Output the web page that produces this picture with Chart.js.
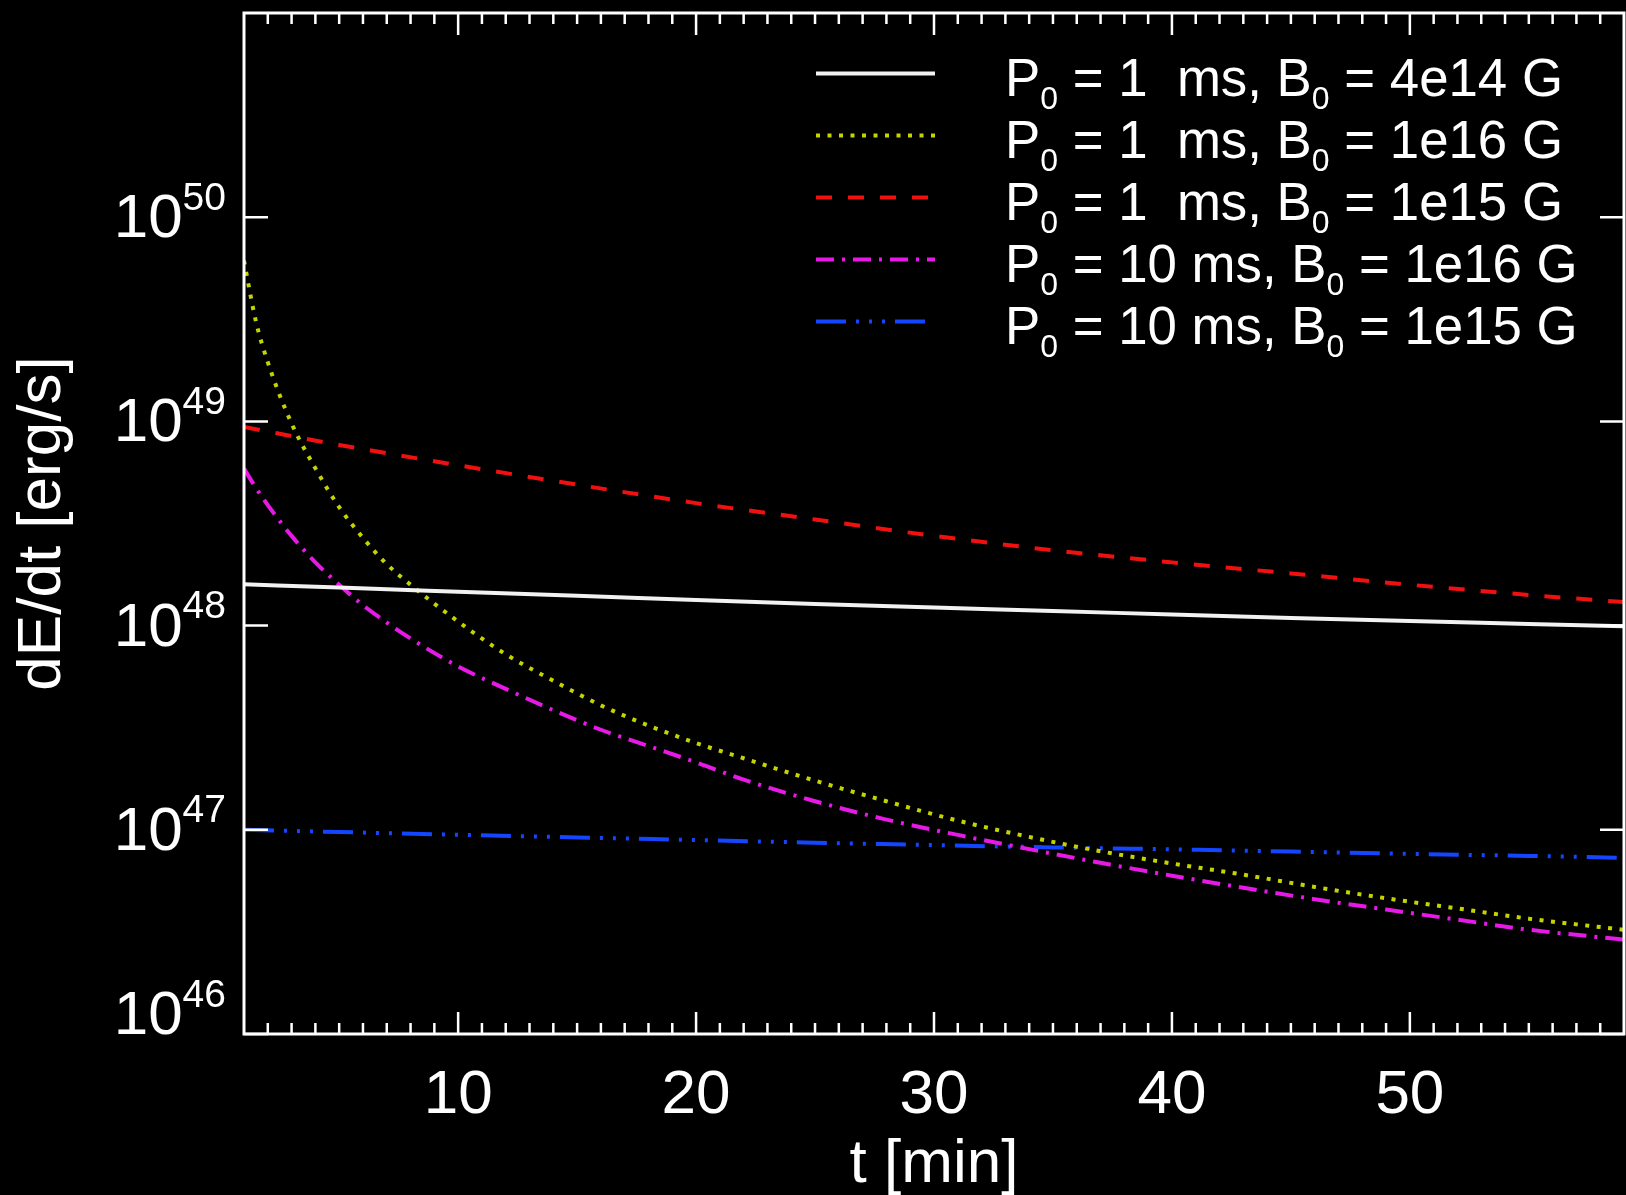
<!DOCTYPE html>
<html>
<head>
<meta charset="utf-8">
<script src="https://cdn.jsdelivr.net/npm/chart.js@4.4.1/dist/chart.umd.min.js"></script>
<style>
  html, body { margin: 0; padding: 0; background: #000; }
  #wrap { width: 1626px; height: 1195px; }
</style>
</head>
<body>
<div id="wrap"><canvas id="diagram" width="1626" height="1195"></canvas></div>
<script>
// time in minutes
const tFine = [1, 1.5, 2, 3, 4, 5, 6, 7, 8, 10, 12, 14, 16, 18, 20, 22, 25, 28, 31, 34, 37, 40, 43, 46, 49, 52, 55, 59];
const tCoarse = [1, 5, 10, 15, 20, 25, 30, 35, 40, 45, 50, 55, 59];

// dE/dt in erg/s
const lumP1B4e14 = [1.592e48, 1.535e48, 1.466e48, 1.400e48, 1.334e48, 1.276e48, 1.225e48, 1.180e48, 1.132e48, 1.089e48, 1.052e48, 1.019e48, 0.993e48];
const lumP1B1e16 = [6.12e49, 3.09e49, 1.95e49, 9.77e48, 5.89e48, 3.80e48, 2.69e48, 2.00e48, 1.585e48, 1.047e48, 7.24e47, 5.37e47, 4.07e47, 3.24e47, 2.66e47, 2.24e47, 1.74e47, 1.38e47, 1.109e47, 9.23e46, 7.85e46, 6.84e46, 6.03e46, 5.25e46, 4.62e46, 4.12e46, 3.67e46, 3.24e46];
const lumP1B1e15 = [9.38e48, 7.67e48, 6.10e48, 4.90e48, 3.98e48, 3.31e48, 2.75e48, 2.34e48, 2.04e48, 1.80e48, 1.585e48, 1.413e48, 1.303e48];
const lumP10B1e16 = [5.87e48, 4.73e48, 3.89e48, 2.75e48, 2.04e48, 1.585e48, 1.259e48, 1.035e48, 8.65e47, 6.31e47, 4.90e47, 3.85e47, 3.09e47, 2.57e47, 2.14e47, 1.76e47, 1.38e47, 1.122e47, 9.44e46, 8.04e46, 6.89e46, 5.96e46, 5.20e46, 4.57e46, 4.07e46, 3.63e46, 3.24e46, 2.90e46];
const lumP10B1e15 = [1.00e47, 9.75e46, 9.46e46, 9.18e46, 8.91e46, 8.65e46, 8.41e46, 8.20e46, 8.02e46, 7.82e46, 7.62e46, 7.45e46, 7.29e46];

const periods = ['1', '1', '1', '10', '10'];
const fields = ['4e14', '1e16', '1e15', '1e16', '1e15'];
const xTicks = [10, 20, 30, 40, 50];
const yExps = [46, 47, 48, 49, 50];

const FONT = '"Liberation Sans", Arial, Helvetica, sans-serif';

function pts(ts, vals) {
  return ts.map((t, i) => ({x: t, y: vals[i]}));
}

function series(i, ts, vals, color, dash) {
  return {
    label: 'P0 = ' + periods[i] + ' ms, B0 = ' + fields[i] + ' G',
    data: pts(ts, vals),
    borderColor: color,
    borderWidth: 4,
    borderDash: dash,
    pointRadius: 0,
    cubicInterpolationMode: 'monotone',
    fill: false
  };
}

// axes box, inward ticks, 10^n labels and the legend
const idlFrame = {
  id: 'idlFrame',
  afterDraw(chart) {
    const ctx = chart.ctx, a = chart.chartArea;
    const x = chart.scales.x, y = chart.scales.y;
    ctx.save();
    ctx.strokeStyle = '#ffffff';
    ctx.lineWidth = 2.5;
    ctx.beginPath();
    for (let v = Math.ceil(x.min) + 1; v < x.max; v++) {
      const px = x.getPixelForValue(v);
      const len = v % 10 === 0 ? 22 : 11;
      ctx.moveTo(px, a.bottom); ctx.lineTo(px, a.bottom - len);
      ctx.moveTo(px, a.top); ctx.lineTo(px, a.top + len);
    }
    yExps.forEach(e => {
      const py = y.getPixelForValue(Math.pow(10, e));
      ctx.moveTo(a.left, py); ctx.lineTo(a.left + 24, py);
      ctx.moveTo(a.right, py); ctx.lineTo(a.right - 24, py);
    });
    ctx.stroke();
    ctx.lineWidth = 3;
    ctx.strokeRect(a.left, a.top, a.right - a.left, a.bottom - a.top);

    // y tick labels with superscript exponent
    ctx.fillStyle = '#ffffff';
    ctx.textAlign = 'left';
    ctx.textBaseline = 'alphabetic';
    yExps.forEach(e => {
      const py = y.getPixelForValue(Math.pow(10, e));
      const base = Math.min(py + 20, a.bottom);
      ctx.font = '39px ' + FONT;
      const we = ctx.measureText(String(e)).width;
      ctx.font = '62px ' + FONT;
      const wb = ctx.measureText('10').width;
      const x0 = 226 - we - wb;
      ctx.fillText('10', x0, base);
      ctx.font = '39px ' + FONT;
      ctx.fillText(String(e), x0 + wb, base - 27.5);
    });

    // legend
    chart.data.datasets.forEach((ds, i) => {
      const ly = 73.6 + i * 62;
      ctx.strokeStyle = ds.borderColor;
      ctx.lineWidth = 4;
      ctx.setLineDash(ds.borderDash || []);
      ctx.beginPath();
      ctx.moveTo(816, ly); ctx.lineTo(935, ly);
      ctx.stroke();
      ctx.setLineDash([]);
      const parts = [
        ['P', false], ['0', true],
        [' = ' + periods[i].padEnd(3, ' ') + 'ms, B', false], ['0', true],
        [' = ' + fields[i] + ' G', false]
      ];
      let tx = 1005;
      const base = ly + 22;
      parts.forEach(p => {
        ctx.font = (p[1] ? 32 : 52.8) + 'px ' + FONT;
        ctx.fillStyle = '#ffffff';
        ctx.fillText(p[0], tx, p[1] ? base + 13 : base);
        tx += ctx.measureText(p[0]).width;
      });
    });
    ctx.restore();
  }
};

const diagram = document.getElementById('diagram').getContext('2d');

const chart = new Chart(diagram, {
  type: 'line',
  data: {
    datasets: [
      series(0, tCoarse, lumP1B4e14, '#f2f2f2', []),
      series(1, tFine, lumP1B1e16, '#c4d400', [4, 7.5]),
      series(2, tCoarse, lumP1B1e15, '#f01010', [16, 16]),
      series(3, tFine, lumP10B1e16, '#e619e6', [18, 8, 3, 8]),
      series(4, tCoarse, lumP10B1e15, '#1446ff', [30, 10, 3, 10, 3, 10, 3, 10])
    ]
  },
  options: {
    responsive: false,
    devicePixelRatio: 1,
    animation: false,
    layout: { padding: { top: 13, right: 2, left: 0, bottom: 0 } },
    plugins: {
      legend: { display: false },
      tooltip: { enabled: false }
    },
    scales: {
      x: {
        type: 'linear',
        min: 1,
        max: 59,
        grid: { display: false, drawTicks: false },
        border: { display: false },
        afterBuildTicks: scale => { scale.ticks = xTicks.map(v => ({value: v})); },
        afterFit: scale => { scale.height = 161; },
        ticks: {
          color: '#ffffff',
          padding: 25,
          maxRotation: 0,
          font: { family: FONT, size: 62 }
        },
        title: {
          display: true,
          text: 't [min]',
          color: '#ffffff',
          padding: { top: 0, bottom: -7 },
          font: { family: FONT, size: 62 }
        }
      },
      y: {
        type: 'logarithmic',
        min: 1e46,
        max: 1e51,
        grid: { display: false, drawTicks: false },
        border: { display: false },
        afterFit: scale => { scale.width = 244; },
        ticks: { display: false },
        title: {
          display: true,
          text: 'dE/dt [erg/s]',
          color: '#ffffff',
          padding: { top: 6, bottom: 0 },
          font: { family: FONT, size: 62 }
        }
      }
    }
  },
  plugins: [idlFrame]
});
</script>
</body>
</html>
